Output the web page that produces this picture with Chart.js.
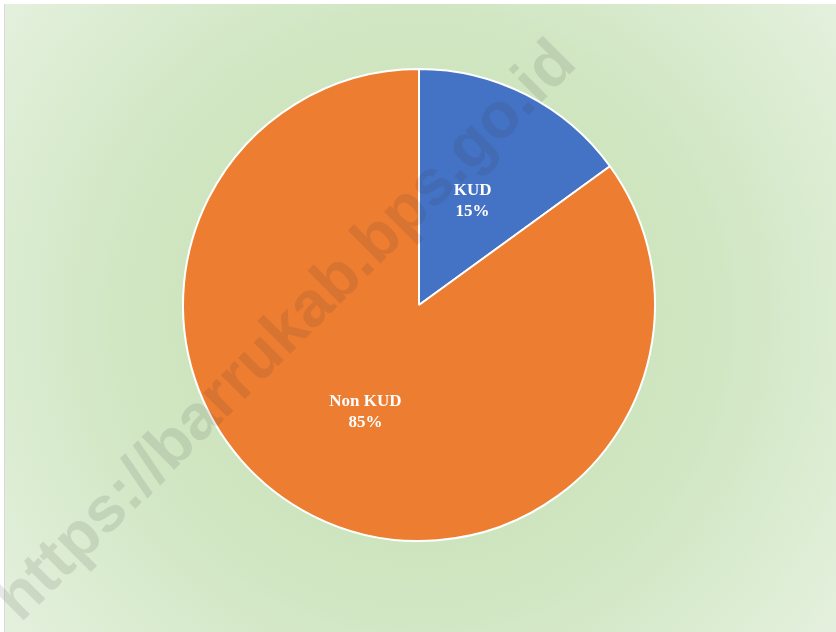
<!DOCTYPE html>
<html>
<head>
<meta charset="utf-8">
<script src="https://cdn.jsdelivr.net/npm/chart.js@4"></script>
<style>
    html, body { margin: 0; padding: 0; background: #ffffff; }
    #pie-chart { display: block; }
</style>
</head>
<body>
<canvas id="pie-chart" width="836" height="632"></canvas>
<script>
const categories = ['KUD', 'Non KUD'];
const shares = [15, 85];
const sliceColors = ['#4472C4', '#ED7D31'];
const watermarkText = 'https://barrukab.bps.go.id';

// green glow behind the pie, plus the thin frame on the left
const backgroundPlugin = {
    id: 'background',
    beforeDraw(chart) {
        const ctx = chart.ctx;
        ctx.save();
        const grad = ctx.createRadialGradient(419, 316, 0, 419, 316, 560);
        grad.addColorStop(0, '#c3dfb0');
        grad.addColorStop(0.55, '#d1e7c4');
        grad.addColorStop(1, '#e8f2e2');
        ctx.fillStyle = grad;
        ctx.fillRect(4, 4, chart.width - 4, chart.height - 4);
        ctx.strokeStyle = '#d9d9d9';
        ctx.lineWidth = 1;
        ctx.beginPath();
        ctx.moveTo(4.5, 4);
        ctx.lineTo(4.5, chart.height);
        ctx.stroke();
        ctx.restore();
    }
};

// "KUD 15%" style labels inside each slice
const sliceLabelsPlugin = {
    id: 'sliceLabels',
    afterDatasetsDraw(chart) {
        const ctx = chart.ctx;
        const meta = chart.getDatasetMeta(0);
        ctx.save();
        ctx.fillStyle = '#ffffff';
        ctx.font = 'bold 17px "Liberation Serif", "DejaVu Serif", serif';
        ctx.textAlign = 'center';
        ctx.textBaseline = 'middle';
        meta.data.forEach((arc, i) => {
            const pos = arc.tooltipPosition();
            ctx.fillText(categories[i], pos.x, pos.y - 9);
            ctx.fillText(shares[i] + '%', pos.x, pos.y + 12);
        });
        ctx.restore();
    }
};

const watermarkPlugin = {
    id: 'watermark',
    afterDraw(chart) {
        const ctx = chart.ctx;
        ctx.save();
        ctx.translate(287, 332);
        ctx.rotate(-Math.PI / 4);
        ctx.font = 'bold 64px "Liberation Sans", Arial, sans-serif';
        ctx.fillStyle = 'rgba(60, 60, 60, 0.12)';
        ctx.textAlign = 'center';
        ctx.textBaseline = 'middle';
        ctx.fillText(watermarkText, 0, 0);
        ctx.restore();
    }
};

const ctx = document.getElementById('pie-chart').getContext('2d');
new Chart(ctx, {
    type: 'pie',
    data: {
        labels: categories,
        datasets: [{
            data: shares,
            backgroundColor: sliceColors,
            borderColor: '#ffffff',
            borderWidth: 2
        }]
    },
    options: {
        responsive: false,
        animation: false,
        radius: 236,
        layout: {
            padding: { left: 183, right: 181, top: 70, bottom: 92 }
        },
        plugins: {
            legend: { display: false },
            tooltip: { enabled: false }
        }
    },
    plugins: [backgroundPlugin, sliceLabelsPlugin, watermarkPlugin]
});
</script>
</body>
</html>
